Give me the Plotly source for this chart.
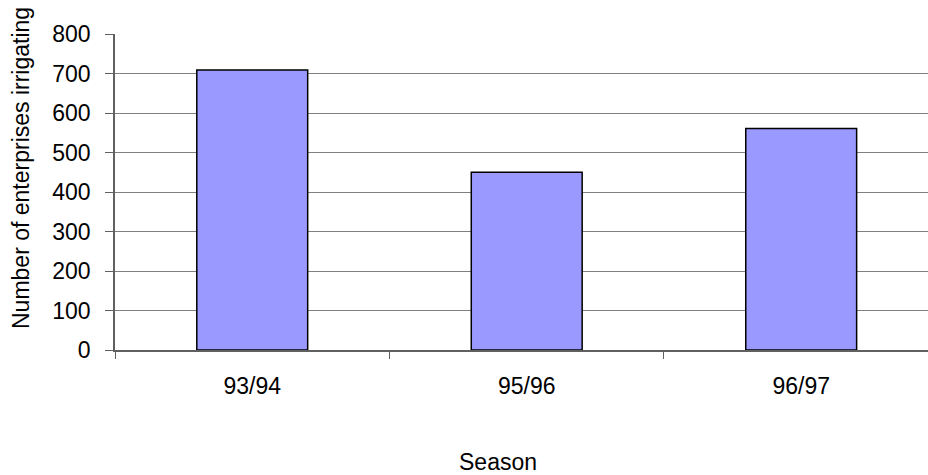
import plotly.graph_objects as go

seasons = ["93/94", "95/96", "96/97"]
enterprises = [709, 450, 561]
y_ticks = [0, 100, 200, 300, 400, 500, 600, 700, 800]

font_family = "Liberation Sans, Arial, sans-serif"

fig = go.Figure(
    go.Bar(
        x=seasons,
        y=enterprises,
        marker=dict(color="#9999FF", line=dict(color="#000000", width=1.5)),
        width=0.404,
    )
)

fig.update_layout(
    width=928,
    height=475,
    margin=dict(l=115, r=0, t=34, b=125),
    paper_bgcolor="white",
    plot_bgcolor="white",
    showlegend=False,
    font=dict(family=font_family, size=23, color="#000000"),
)

# the plot area runs slightly past the right edge, so the last category is cut short
fig.update_xaxes(
    type="category",
    range=[-0.5, 2.462],
    showline=True,
    linecolor="#606060",
    linewidth=1.5,
    ticks="outside",
    tickson="boundaries",
    ticklen=7,
    tickcolor="#606060",
    tickfont=dict(size=23),
    ticklabelstandoff=15,
    showgrid=False,
)

fig.update_yaxes(
    range=[0, 800],
    tickvals=y_ticks,
    showline=True,
    linecolor="#606060",
    linewidth=1.5,
    ticks="outside",
    ticklen=8,
    tickcolor="#606060",
    tickfont=dict(size=23),
    ticklabelstandoff=10,
    showgrid=True,
    gridcolor="#808080",
    gridwidth=1,
    zeroline=False,
)

fig.add_annotation(
    text="Number of enterprises irrigating",
    textangle=-90,
    xref="paper", yref="paper",
    x=(21 - 115) / 813, y=(350 - 168) / 316,
    xanchor="center", yanchor="middle",
    showarrow=False,
    font=dict(size=23),
)

fig.add_annotation(
    text="Season",
    xref="paper", yref="paper",
    x=(498 - 115) / 813, y=-(462 - 350) / 316,
    xanchor="center", yanchor="middle",
    showarrow=False,
    font=dict(size=23),
)

fig.write_html("out.html")
